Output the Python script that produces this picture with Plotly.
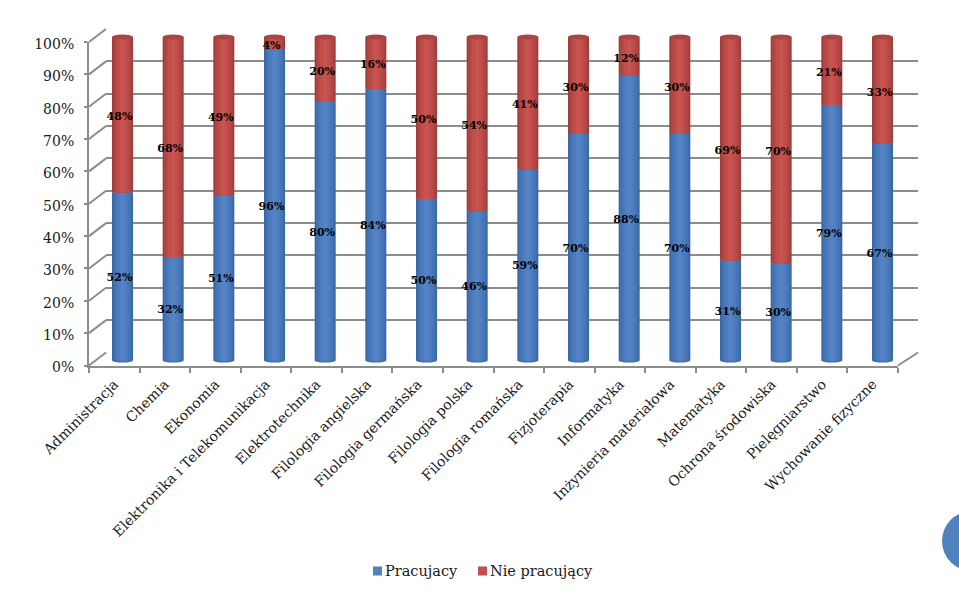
import plotly.graph_objects as go

categories = ["Administracja", "Chemia", "Ekonomia", "Elektronika i Telekomunikacja",
              "Elektrotechnika", "Filologia angielska", "Filologia germańska", "Filologia polska",
              "Filologia romańska", "Fizjoterapia", "Informatyka", "Inżynieria materiałowa",
              "Matematyka", "Ochrona środowiska", "Pielęgniarstwo", "Wychowanie fizyczne"]
pracujacy = [52, 32, 51, 96, 80, 84, 50, 46, 59, 70, 88, 70, 31, 30, 79, 67]
nie_pracujacy = [48, 68, 49, 4, 20, 16, 50, 54, 41, 30, 12, 30, 69, 70, 21, 33]
y_ticks = [0, 10, 20, 30, 40, 50, 60, 70, 80, 90, 100]
series_names = ["Pracujacy", "Nie pracujący"]

W, H = 959, 601
FONT = "DejaVu Serif"
GRID = "#8c8c8c"
TEXT = "#1a1a1a"


def dx(a, b):
    return [a / W, b / W]


def dy(bottom, top):
    return [1 - bottom / H, 1 - top / H]


def lerp(c1, c2, t):
    return "rgb(%d,%d,%d)" % tuple(round(a + (b - a) * t) for a, b in zip(c1, c2))


idx = list(range(len(categories)))
xr = [-0.5, len(categories) - 0.5]
BAR_W = 21 / 50.67
LAYERS = 9
SHADES = [((56, 102, 165), (84, 132, 198)), ((156, 60, 58), (202, 84, 80))]
BASE = ["#4f81bd", "#c0504d"]

fig = go.Figure()

fig.add_trace(go.Scatter(x=categories, y=[0] * len(categories), xaxis="x", yaxis="y", mode="markers",
                         marker=dict(opacity=0), showlegend=False, hoverinfo="skip"))
fig.add_trace(go.Scatter(x=idx, y=[0] * len(idx), xaxis="x2", yaxis="y2", mode="markers",
                         marker=dict(opacity=0), showlegend=False, hoverinfo="skip"))

bases = [[0] * len(idx), [v / 100 for v in pracujacy]]
values = [[v / 100 for v in pracujacy], [v / 100 for v in nie_pracujacy]]
for s in range(2):
    for k in range(LAYERS):
        t = k / (LAYERS - 1)
        fig.add_trace(go.Bar(
            x=idx, y=values[s], base=bases[s], xaxis="x3", yaxis="y3",
            width=BAR_W * (1 - 0.9 * t), name=series_names[s],
            marker=dict(color=lerp(SHADES[s][0], SHADES[s][1], t ** 0.6), line_width=0),
            showlegend=False, hoverinfo="skip"))

for s in range(2):
    mids = [b + v / 2 for b, v in zip(bases[s], values[s])]
    fig.add_trace(go.Scatter(
        x=idx, y=mids, xaxis="x4", yaxis="y4", mode="text",
        text=["%d%%" % round(v * 100) for v in values[s]], textposition="middle center",
        textfont=dict(family=FONT, size=11, color="#000000", weight="bold"),
        showlegend=False, hoverinfo="skip"))

shapes = []
for t in y_ticks:
    f = t / 100
    yf = 365.5 - 323.5 * f
    shapes.append(dict(type="line", xref="paper", yref="paper", x0=89 / W, x1=106 / W,
                       y0=1 - yf / H, y1=1 - (yf - 13) / H, line=dict(color=GRID, width=2), layer="below"))
shapes.append(dict(type="line", xref="paper", yref="paper", x0=898 / W, x1=918 / W,
                   y0=1 - 365.5 / H, y1=1 - 352.5 / H, line=dict(color=GRID, width=2), layer="below"))
for i in idx:
    hw = BAR_W / 2
    shapes.append(dict(type="circle", xref="x3", yref="y3", x0=i - hw, x1=i + hw,
                       y0=-0.006, y1=0.006, fillcolor="#4273b2", line_width=0, layer="between"))
    shapes.append(dict(type="circle", xref="x3", yref="y3", x0=i - hw, x1=i + hw,
                       y0=0.992, y1=1.008, fillcolor="#a94543", line_width=0, layer="above"))
shapes.append(dict(type="circle", xref="paper", yref="paper", x0=942 / W, x1=1002 / W,
                   y0=1 - 571 / H, y1=1 - 511 / H, fillcolor="#4f81bd", line_width=0, layer="above"))

annotations = []
legend_x = [[373, 382, 383], [478, 487, 488]]
for s in range(2):
    sq0, sq1, tx = legend_x[s]
    shapes.append(dict(type="rect", xref="paper", yref="paper", x0=sq0 / W, x1=sq1 / W,
                       y0=1 - 575.5 / H, y1=1 - 566.5 / H, fillcolor=BASE[s], line_width=0))
    annotations.append(dict(xref="paper", yref="paper", x=tx / W, y=1 - 571 / H, xanchor="left", yanchor="middle",
                            text=series_names[s], showarrow=False,
                            font=dict(family=FONT, size=14.5, color=TEXT)))

hidden = dict(visible=False, fixedrange=True, automargin=False)
fig.update_layout(
    width=W, height=H, margin=dict(l=0, r=0, t=0, b=0, autoexpand=False), paper_bgcolor="white",
    plot_bgcolor="rgba(0,0,0,0)", showlegend=False,
    barmode="overlay", shapes=shapes, annotations=annotations, font=dict(family=FONT, color=TEXT, size=13),
    xaxis=dict(domain=dx(89, 898), anchor="y", type="category", categoryorder="array", automargin=False,
               categoryarray=categories, range=xr, tickson="boundaries", ticks="outside", ticklen=5,
               tickcolor=GRID, tickwidth=2, showline=True, linecolor=GRID, linewidth=2, showgrid=False,
               tickangle=-45, ticklabelstandoff=3, tickfont=dict(family=FONT, size=14, color=TEXT), fixedrange=True),
    yaxis=dict(domain=dy(365.5, 42), anchor="x", range=[0, 1], tickvals=[t / 100 for t in y_ticks], automargin=False,
               ticktext=["%d%%" % t for t in y_ticks], ticks="outside", ticklen=3, tickcolor=GRID, tickwidth=2,
               ticklabelstandoff=7, ticklabelshift=2,
               showline=True, linecolor=GRID, linewidth=2, showgrid=False, zeroline=False,
               tickfont=dict(family=FONT, size=14, color=TEXT), fixedrange=True),
    xaxis2=dict(domain=dx(106, 918), anchor="y2", range=xr, **hidden),
    yaxis2=dict(domain=dy(352.5, 29), anchor="x2", range=[0, 1], tickvals=[t / 100 for t in y_ticks], automargin=False,
                showticklabels=False, ticks="", showgrid=True, gridcolor=GRID, gridwidth=2, zeroline=False,
                showline=False, fixedrange=True),
    xaxis3=dict(domain=dx(97.17, 907.83), anchor="y3", range=xr, **hidden),
    yaxis3=dict(domain=dy(360.5 + 9.705, 37 - 9.705), anchor="x3", range=[-0.03, 1.03], **hidden),
    xaxis4=dict(domain=dx(94.17, 904.83), anchor="y4", range=xr, **hidden),
    yaxis4=dict(domain=dy(361.7, 39.7), anchor="x4", range=[0, 1], **hidden),
)
fig.write_html("out.html", config=dict(displayModeBar=False),
               post_script="document.body.style.margin='0';document.body.style.overflow='hidden';")
